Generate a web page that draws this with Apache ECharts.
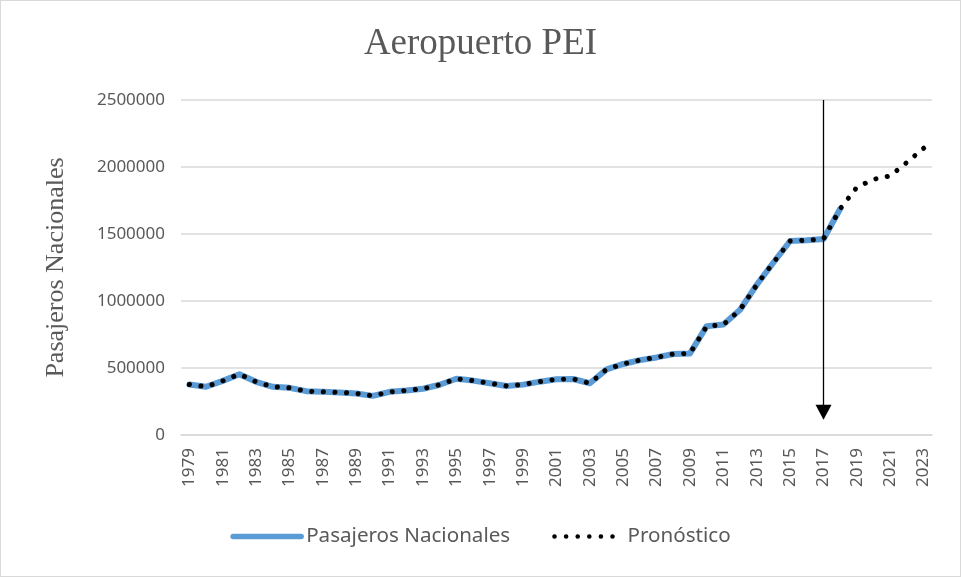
<!DOCTYPE html>
<html>
<head>
<meta charset="utf-8">
<script src="https://cdn.jsdelivr.net/npm/echarts@6/dist/echarts.min.js"></script>
<style>
  html, body { margin: 0; padding: 0; background: #fff; }
  #main { width: 959px; height: 575px; border: 1px solid #d9d9d9; }
</style>
</head>
<body>
<div id="main"></div>
<script>
// years on the x axis
const years = [];
for (let y = 1979; y <= 2023; y++) years.push(String(y));

// pasajeros nacionales 1979-2018
const pasajeros = [
  377000, 360000, 404000, 454000, 397000, 360000, 352000, 327000, 322000, 318000,
  310000, 292000, 322000, 332000, 345000, 375000, 420000, 406000, 386000, 366000,
  376000, 398000, 416000, 418000, 386000, 490000, 530000, 559000, 579000, 604000,
  609000, 812000, 824000, 935000, 1121000, 1287000, 1448000, 1453000, 1463000, 1688000
];

// pronostico: same history plus forecast 2019-2023
const pronostico = pasajeros.concat([1849000, 1908000, 1934000, 2035000, 2140000]);

const yTicks = [0, 500000, 1000000, 1500000, 2000000, 2500000];

const chart = echarts.init(document.getElementById('main'));
chart.setOption({
  animation: false,
  title: {
    text: 'Aeropuerto PEI',
    left: 'center',
    top: 20,
    textStyle: { fontFamily: 'Liberation Serif', fontSize: 37, fontWeight: 'normal', color: '#595959' }
  },
  legend: {
    bottom: 24,
    left: 'center',
    itemWidth: 68,
    itemHeight: 14,
    itemGap: 42,
    itemStyle: { opacity: 0 },
    textStyle: { fontFamily: 'Noto Sans', fontSize: 20.6, color: '#595959' },
    data: [
      { name: 'Pasajeros Nacionales', lineStyle: { width: 5.5 } },
      { name: 'Pronóstico', lineStyle: { width: 4.5 } }
    ]
  },
  grid: { left: 180, right: 28, top: 99, bottom: 141 },
  xAxis: {
    type: 'category',
    data: years,
    boundaryGap: true,
    axisLine: { lineStyle: { color: '#d9d9d9', width: 1.5 } },
    axisTick: { show: false },
    axisLabel: {
      rotate: 90,
      interval: 1,
      margin: 13,
      fontFamily: 'Noto Sans',
      fontSize: 17,
      color: '#595959'
    }
  },
  yAxis: {
    type: 'value',
    min: yTicks[0],
    max: yTicks[yTicks.length - 1],
    interval: 500000,
    name: 'Pasajeros Nacionales',
    nameLocation: 'middle',
    nameGap: 112,
    nameTextStyle: { fontFamily: 'Liberation Serif', fontSize: 26, color: '#595959' },
    axisLine: { show: false },
    axisTick: { show: false },
    splitLine: { lineStyle: { color: '#d9d9d9', width: 1.5 } },
    axisLabel: {
      margin: 16,
      fontFamily: 'Noto Sans',
      fontSize: 17,
      color: '#595959',
      formatter: (v) => String(v)
    }
  },
  series: [
    {
      name: 'Pasajeros Nacionales',
      type: 'line',
      data: pasajeros,
      symbol: 'none',
      lineStyle: { color: '#5b9bd5', width: 6, cap: 'round', join: 'round' },
      itemStyle: { color: '#5b9bd5' },
      z: 2
    },
    {
      name: 'Pronóstico',
      type: 'line',
      data: pronostico,
      symbol: 'none',
      lineStyle: { color: '#000', width: 5, type: [0.1, 11.5], cap: 'round', join: 'round' },
      itemStyle: { color: '#000' },
      z: 3,
      markLine: {
        silent: true,
        symbol: ['none', 'triangle'],
        symbolSize: [16, 15],
        label: { show: false },
        lineStyle: { color: '#000', width: 1.3, type: 'solid' },
        data: [[{ coord: ['2017', 2500000] }, { coord: ['2017', 170000] }]]
      }
    }
  ]
});
</script>
</body>
</html>
